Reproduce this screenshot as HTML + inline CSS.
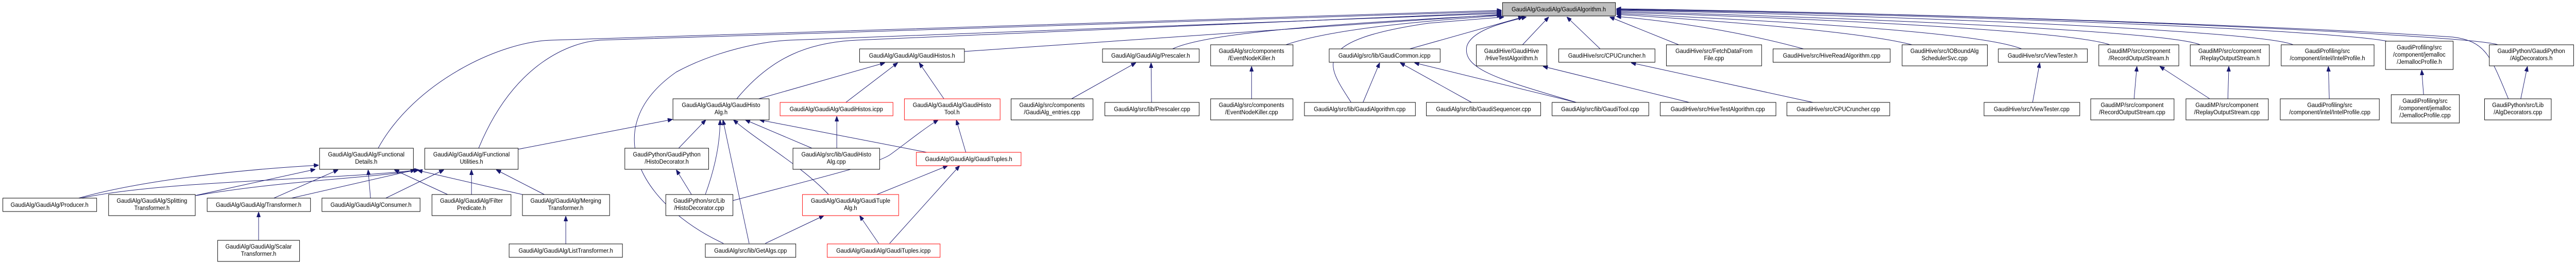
<!DOCTYPE html>
<html><head><meta charset="utf-8"><meta name="viewport" content="width=5409">
<style>
html,body{margin:0;padding:0;background:#fff;width:100%;height:100%;overflow:hidden;}
svg{display:block;position:absolute;left:0;top:0;width:100vw;height:100vh;}
text{font-family:"Liberation Sans",sans-serif;font-size:12px;fill:#000;text-anchor:middle;}
.n{fill:#fff;stroke:#000;stroke-width:1;}
.r{fill:#fff;stroke:#ff0000;stroke-width:1;}
.m{fill:#bfbfbf;stroke:#000;stroke-width:1;}
path.e{fill:none;stroke:#191970;stroke-width:1;marker-end:url(#a);}
</style></head><body>
<svg viewBox="0 0 5409 513" preserveAspectRatio="none" xmlns="http://www.w3.org/2000/svg">
<defs><marker id="a" markerWidth="10" markerHeight="8" refX="10" refY="4" orient="auto" markerUnits="userSpaceOnUse"><path d="M0,0 L10,4 L0,8 z" fill="#191970" stroke="#191970"/></marker></defs>

<g>
<path class="e" d="M794,288 C870,160 1050,80 1160,78 L3153,20"/>
<path class="e" d="M1005,288 C1080,120 1200,82 1260,78 L3153,22"/>
<path class="e" d="M1547,192 C1620,110 1700,82 1800,78 L3153,24"/>
<path class="e" d="M1519,473 C1350,400 1250,250 1420,140 C1500,100 1600,80 1660,78 L3153,26"/>
<path class="e" d="M2025,100 L3153,28"/>
<path class="e" d="M2462,95 C2520,70 2700,50 3153,29"/>
<path class="e" d="M2700,87 C2800,55 3000,40 3153,30"/>
<path class="e" d="M2837,199 C2790,130 2740,80 3000,45 L3158,33"/>
<path class="e" d="M2960,95 L3198,33"/>
<path class="e" d="M3310,199 C3150,155 3070,135 3080,90 C3090,60 3150,45 3205,33"/>
<path class="e" d="M3197,87 L3252,33"/>
<path class="e" d="M3360,95 L3290,33"/>
<path class="e" d="M3525,87 L3380,33"/>
<path class="e" d="M3787,95 C3650,60 3500,40 3394,32"/>
<path class="e" d="M4015,87 C3900,60 3600,40 3394,28"/>
<path class="e" d="M4245,95 C4150,60 3700,40 3394,26"/>
<path class="e" d="M4430,87 C4350,60 3800,35 3394,24"/>
<path class="e" d="M4620,87 C4550,60 3900,35 3394,22"/>
<path class="e" d="M4815,87 C4750,60 4000,30 3394,20"/>
<path class="e" d="M5012,80 C4900,60 4200,30 3394,19"/>
<path class="e" d="M5245,87 C5200,70 4300,28 3394,18"/>
<path class="e" d="M5267,192 C5230,110 5220,80 5150,72 C4800,50 4000,25 3394,17"/>

<path class="e" d="M165,385 C300,350 500,330 669,321"/>
<path class="e" d="M170,385 C350,350 700,350 880,330"/>
<path class="e" d="M410,380 L662,329"/>
<path class="e" d="M412,380 C600,350 800,345 878,330"/>
<path class="e" d="M575,385 L710,330"/>
<path class="e" d="M612,385 L872,330"/>
<path class="e" d="M778,385 L773,330"/>
<path class="e" d="M810,385 L932,330"/>
<path class="e" d="M940,378 L828,330"/>
<path class="e" d="M990,378 L990,330"/>
<path class="e" d="M1143,378 L1042,330"/>
<path class="e" d="M1097,378 L877,331"/>
<path class="e" d="M1088,290 L1412,232"/>
<path class="e" d="M543,467 L543,412"/>
<path class="e" d="M1188,474 L1188,420"/>

<path class="e" d="M1593,192 L1858,122"/>
<path class="e" d="M1776,199 L1885,122"/>
<path class="e" d="M1982,192 L1930,122"/>
<path class="e" d="M1757,288 L1757,226"/>
<path class="e" d="M1425,288 L1482,233"/>
<path class="e" d="M1705,288 L1565,233"/>
<path class="e" d="M1946,296 L1595,233"/>
<path class="e" d="M2028,296 L2008,233"/>
<path class="e" d="M1452,378 L1420,330"/>
<path class="e" d="M1481,378 C1500,330 1512,280 1512,233"/>
<path class="e" d="M1538,390 C1700,350 1840,320 1870,300 C1900,280 1940,250 1970,233"/>
<path class="e" d="M1573,473 L1518,233"/>
<path class="e" d="M1740,378 C1680,320 1600,280 1540,233"/>
<path class="e" d="M1841,378 L1990,322"/>
<path class="e" d="M1607,473 L1730,419"/>
<path class="e" d="M1845,473 L1805,419"/>
<path class="e" d="M1868,473 L2015,322"/>

<path class="e" d="M2250,192 L2385,122"/>
<path class="e" d="M2418,199 L2417,122"/>
<path class="e" d="M2628,192 L2628,129"/>
<path class="e" d="M2862,199 L2897,122"/>
<path class="e" d="M3090,199 L2940,122"/>
<path class="e" d="M3310,199 L2970,122"/>
<path class="e" d="M3547,199 L3240,129"/>
<path class="e" d="M3807,199 L3425,122"/>
<path class="e" d="M4268,199 L4283,122"/>
<path class="e" d="M4481,192 L4487,129"/>
<path class="e" d="M4640,192 L4535,129"/>
<path class="e" d="M4678,192 L4680,129"/>
<path class="e" d="M4891,192 L4889,129"/>
<path class="e" d="M5089,184 L5085,136"/>
<path class="e" d="M5293,192 L5307,129"/>
</g>

<rect class="m" x="3155" y="5" width="237" height="26"/><text x="3273" y="22">GaudiAlg/GaudiAlg/GaudiAlgorithm.h</text>

<rect class="n" x="1805" y="95" width="220" height="26"/><text x="1915" y="112">GaudiAlg/GaudiAlg/GaudiHistos.h</text>
<rect class="n" x="2315" y="95" width="203" height="26"/><text x="2416" y="112">GaudiAlg/GaudiAlg/Prescaler.h</text>
<rect class="n" x="2542" y="87" width="173" height="41"/><text x="2628" y="103">GaudiAlg/src/components</text><text x="2628" y="117">/EventNodeKiller.h</text>
<rect class="n" x="2791" y="95" width="233" height="26"/><text x="2907" y="112">GaudiAlg/src/lib/GaudiCommon.icpp</text>
<rect class="n" x="3100" y="87" width="148" height="41"/><text x="3174" y="103">GaudiHive/GaudiHive</text><text x="3174" y="117">/HiveTestAlgorithm.h</text>
<rect class="n" x="3273" y="95" width="202" height="26"/><text x="3374" y="112">GaudiHive/src/CPUCruncher.h</text>
<rect class="n" x="3499" y="87" width="200" height="41"/><text x="3599" y="103">GaudiHive/src/FetchDataFrom</text><text x="3599" y="117">File.cpp</text>
<rect class="n" x="3723" y="95" width="246" height="26"/><text x="3846" y="112">GaudiHive/src/HiveReadAlgorithm.cpp</text>
<rect class="n" x="3994" y="87" width="179" height="41"/><text x="4083" y="103">GaudiHive/src/IOBoundAlg</text><text x="4083" y="117">SchedulerSvc.cpp</text>
<rect class="n" x="4196" y="95" width="187" height="26"/><text x="4289" y="112">GaudiHive/src/ViewTester.h</text>
<rect class="n" x="4407" y="87" width="168" height="41"/><text x="4491" y="103">GaudiMP/src/component</text><text x="4491" y="117">/RecordOutputStream.h</text>
<rect class="n" x="4599" y="87" width="166" height="41"/><text x="4682" y="103">GaudiMP/src/component</text><text x="4682" y="117">/ReplayOutputStream.h</text>
<rect class="n" x="4790" y="87" width="195" height="41"/><text x="4887" y="103">GaudiProfiling/src</text><text x="4887" y="117">/component/intel/IntelProfile.h</text>
<rect class="n" x="5009" y="80" width="142" height="55"/><text x="5080" y="96">GaudiProfiling/src</text><text x="5080" y="110">/component/jemalloc</text><text x="5080" y="124">/JemallocProfile.h</text>
<rect class="n" x="5227" y="87" width="177" height="41"/><text x="5315" y="103">GaudiPython/GaudiPython</text><text x="5315" y="117">/AlgDecorators.h</text>

<rect class="n" x="1413" y="192" width="202" height="41"/><text x="1514" y="208">GaudiAlg/GaudiAlg/GaudiHisto</text><text x="1514" y="222">Alg.h</text>
<rect class="r" x="1638" y="199" width="237" height="26"/><text x="1756" y="216">GaudiAlg/GaudiAlg/GaudiHistos.icpp</text>
<rect class="r" x="1899" y="192" width="201" height="41"/><text x="1999" y="208">GaudiAlg/GaudiAlg/GaudiHisto</text><text x="1999" y="222">Tool.h</text>
<rect class="n" x="2123" y="192" width="172" height="41"/><text x="2209" y="208">GaudiAlg/src/components</text><text x="2209" y="222">/GaudiAlg_entries.cpp</text>
<rect class="n" x="2320" y="199" width="198" height="26"/><text x="2419" y="216">GaudiAlg/src/lib/Prescaler.cpp</text>
<rect class="n" x="2542" y="192" width="173" height="41"/><text x="2628" y="208">GaudiAlg/src/components</text><text x="2628" y="222">/EventNodeKiller.cpp</text>
<rect class="n" x="2739" y="199" width="233" height="26"/><text x="2855" y="216">GaudiAlg/src/lib/GaudiAlgorithm.cpp</text>
<rect class="n" x="2995" y="199" width="240" height="26"/><text x="3115" y="216">GaudiAlg/src/lib/GaudiSequencer.cpp</text>
<rect class="n" x="3259" y="199" width="203" height="26"/><text x="3360" y="216">GaudiAlg/src/lib/GaudiTool.cpp</text>
<rect class="n" x="3486" y="199" width="243" height="26"/><text x="3607" y="216">GaudiHive/src/HiveTestAlgorithm.cpp</text>
<rect class="n" x="3752" y="199" width="216" height="26"/><text x="3860" y="216">GaudiHive/src/CPUCruncher.cpp</text>
<rect class="n" x="4166" y="199" width="201" height="26"/><text x="4266" y="216">GaudiHive/src/ViewTester.cpp</text>
<rect class="n" x="4390" y="192" width="175" height="41"/><text x="4477" y="208">GaudiMP/src/component</text><text x="4477" y="222">/RecordOutputStream.cpp</text>
<rect class="n" x="4590" y="192" width="173" height="41"/><text x="4676" y="208">GaudiMP/src/component</text><text x="4676" y="222">/ReplayOutputStream.cpp</text>
<rect class="n" x="4788" y="192" width="208" height="41"/><text x="4892" y="208">GaudiProfiling/src</text><text x="4892" y="222">/component/intel/IntelProfile.cpp</text>
<rect class="n" x="5021" y="184" width="143" height="55"/><text x="5092" y="200">GaudiProfiling/src</text><text x="5092" y="214">/component/jemalloc</text><text x="5092" y="228">/JemallocProfile.cpp</text>
<rect class="n" x="5217" y="192" width="140" height="41"/><text x="5287" y="208">GaudiPython/src/Lib</text><text x="5287" y="222">/AlgDecorators.cpp</text>

<rect class="n" x="671" y="288" width="197" height="41"/><text x="769" y="304">GaudiAlg/GaudiAlg/Functional</text><text x="769" y="318">Details.h</text>
<rect class="n" x="892" y="288" width="196" height="41"/><text x="990" y="304">GaudiAlg/GaudiAlg/Functional</text><text x="990" y="318">Utilities.h</text>
<rect class="n" x="1312" y="288" width="176" height="41"/><text x="1400" y="304">GaudiPython/GaudiPython</text><text x="1400" y="318">/HistoDecorator.h</text>
<rect class="n" x="1665" y="288" width="182" height="41"/><text x="1756" y="304">GaudiAlg/src/lib/GaudiHisto</text><text x="1756" y="318">Alg.cpp</text>
<rect class="r" x="1924" y="296" width="220" height="26"/><text x="2034" y="313">GaudiAlg/GaudiAlg/GaudiTuples.h</text>

<rect class="n" x="6" y="385" width="197" height="26"/><text x="104" y="402">GaudiAlg/GaudiAlg/Producer.h</text>
<rect class="n" x="228" y="378" width="182" height="41"/><text x="319" y="394">GaudiAlg/GaudiAlg/Splitting</text><text x="319" y="408">Transformer.h</text>
<rect class="n" x="435" y="385" width="217" height="26"/><text x="543" y="402">GaudiAlg/GaudiAlg/Transformer.h</text>
<rect class="n" x="676" y="385" width="206" height="26"/><text x="779" y="402">GaudiAlg/GaudiAlg/Consumer.h</text>
<rect class="n" x="907" y="378" width="166" height="41"/><text x="990" y="394">GaudiAlg/GaudiAlg/Filter</text><text x="990" y="408">Predicate.h</text>
<rect class="n" x="1097" y="378" width="183" height="41"/><text x="1188" y="394">GaudiAlg/GaudiAlg/Merging</text><text x="1188" y="408">Transformer.h</text>
<rect class="n" x="1398" y="378" width="141" height="41"/><text x="1468" y="394">GaudiPython/src/Lib</text><text x="1468" y="408">/HistoDecorator.cpp</text>
<rect class="r" x="1685" y="378" width="202" height="41"/><text x="1786" y="394">GaudiAlg/GaudiAlg/GaudiTuple</text><text x="1786" y="408">Alg.h</text>

<rect class="n" x="457" y="467" width="172" height="41"/><text x="543" y="483">GaudiAlg/GaudiAlg/Scalar</text><text x="543" y="497">Transformer.h</text>
<rect class="n" x="1069" y="474" width="238" height="26"/><text x="1188" y="491">GaudiAlg/GaudiAlg/ListTransformer.h</text>
<rect class="n" x="1481" y="474" width="190" height="26"/><text x="1576" y="491">GaudiAlg/src/lib/GetAlgs.cpp</text>
<rect class="r" x="1737" y="474" width="237" height="26"/><text x="1855" y="491">GaudiAlg/GaudiAlg/GaudiTuples.icpp</text>
</svg>
</body></html>
